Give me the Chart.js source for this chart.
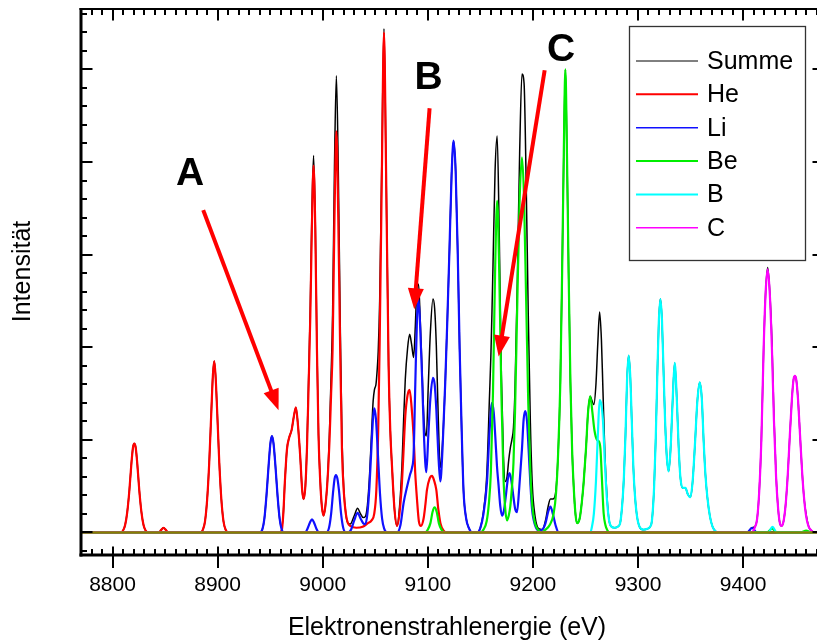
<!DOCTYPE html>
<html>
<head>
<meta charset="utf-8">
<script src="https://cdn.jsdelivr.net/npm/chart.js@4.4.1/dist/chart.umd.min.js"></script>
<style>
  html, body { margin: 0; padding: 0; background: #fff; overflow: hidden; }
  #wrap { position: relative; width: 840px; height: 643px; }
</style>
</head>
<body>
<div id="wrap"><canvas id="c"></canvas></div>
<script>
// Axis ranges and tick values
const X_MIN = 8770, X_MAX = 9477;
const Y_MIN = -0.244, Y_MAX = 5.652;
const xMajorTicks = [8800, 8900, 9000, 9100, 9200, 9300, 9400];
const yMajorTicks = [0, 1, 2, 3, 4, 5];

// Spectra: [energy (eV), intensity]
const summe = [
  [8770,0],[8808,0],[8810,0.02],[8812,0.08],[8814,0.22],[8816,0.45],[8818,0.75],[8819.5,0.92],[8820.7,0.96],[8822,0.92],[8823.5,0.75],[8825.5,0.45],[8827.5,0.22],[8829.5,0.08],[8831.5,0.02],[8834,0],
  [8844,0],[8846.5,0.03],[8848.5,0.05],[8850.5,0.03],[8853,0],
  [8884,0],[8886,0.03],[8888,0.12],[8890,0.35],[8892,0.75],[8894,1.3],[8895.5,1.7],[8896.8,1.85],[8898,1.7],[8899.6,1.3],[8901.6,0.75],[8903.6,0.35],[8905.6,0.12],[8907.6,0.03],[8910,0],
  [8940,0],[8942.5,0.03],[8944.5,0.15],[8946.5,0.4],[8948.5,0.72],[8950.2,0.96],[8951.7,1.04],[8953.2,0.96],[8955,0.72],[8957,0.4],[8959,0.15],
  [8961,0.05],[8962.5,0.2],[8964,0.55],[8966,0.9],[8968,1.02],[8970.5,1.11],[8972.5,1.25],[8974.5,1.35],[8976.5,1.15],[8978.6,0.82],[8980.5,0.45],[8981.8,0.36],[8983.5,0.5],[8985,0.93],[8986.5,1.62],[8988.2,2.45],[8989.7,3.44],[8991.3,4.07],[8992.9,3.38],[8994.5,2.01],[8996,1.06],[8997.7,0.54],[8999.2,0.28],[9000.8,0.18],
  [9002.5,0.28],[9004.5,0.56],[9006.5,1.1],[9008,1.7],[9009.4,2.35],[9011.2,3.95],[9013,4.93],[9014.8,3.93],[9016.6,2.32],[9018.3,1.05],[9020,0.48],[9022,0.2],[9024,0.1],[9026.2,0.09],
  [9030,0.18],[9033.2,0.26],[9036,0.2],[9038.5,0.16],[9040.5,0.17],[9042.5,0.29],[9044.5,0.6],[9046.5,1.08],[9048,1.42],[9049.2,1.54],[9050.7,1.6],[9051.8,1.75],[9052.8,1.95],[9054.2,2.5],[9056.3,4.05],[9058.3,5.44],[9060.3,3.9],[9062.7,1.8],[9064.3,1.1],[9065.9,0.72],[9068.3,0.25],[9070.7,0.07],
  [9073,0.26],[9075.4,0.72],[9077,1.22],[9078.6,1.66],[9080.7,1.98],[9082.7,2.14],[9084.6,2.03],[9086.5,1.89],[9088.1,2.22],[9089.7,2.66],[9091.2,2.68],[9092.8,2.3],[9094.5,1.77],[9096.5,1.18],[9098.6,1.04],[9100.5,1.6],[9102.4,2.15],[9104.9,2.52],[9106.5,2.42],[9108.1,2.02],[9110,1.22],[9111.9,0.7],[9114,0.96],[9116.6,1.62],
  [9118.6,2.3],[9120.6,3.05],[9122.6,3.85],[9124.5,4.23],[9126.5,3.9],[9128.5,3.0],[9130.3,1.98],[9132,1.2],[9134,0.45],[9136.5,0.15],[9139,0.05],[9142,0],
  [9147,0],[9150,0.05],[9153,0.23],[9156,0.6],[9158.8,1.5],[9160,1.9],[9161.1,2.4],[9162,2.86],[9164,3.9],[9166,4.28],[9168,3.2],[9170,1.7],[9172,0.82],[9173.7,0.55],[9175.4,0.6],[9177,0.78],[9178.5,0.91],[9180,1.0],[9181.5,1.13],[9183,1.56],[9185.2,2.72],[9187.4,4.1],[9189.6,4.95],[9191.6,4.85],[9193.6,3.78],[9195.6,2.35],[9197.6,1.18],[9199.5,0.5],[9202,0.18],[9205.5,0.04],
  [9209,0.03],[9212,0.13],[9214.5,0.28],[9216.7,0.36],[9219,0.36],[9221.5,0.42],[9224,0.85],[9226.1,1.62],[9227.8,2.8],[9229.4,4.1],[9230.9,5.0],[9232.4,4.1],[9234,2.8],[9235.7,1.62],[9237.3,0.9],[9238.8,0.5],[9240.5,0.2],[9242,0.1],
  [9244.5,0.15],[9246.5,0.32],[9248.3,0.54],[9250.5,0.9],[9252.5,1.3],[9254.6,1.47],[9256,1.43],[9258,1.38],[9260,1.6],[9261.8,2.05],[9263.5,2.38],[9265.2,2.08],[9266.7,1.52],[9268.5,0.85],[9270.5,0.39],[9272.5,0.13],[9275,0.06],
  [9278,0.05],[9280.5,0.06],[9283,0.1],[9285,0.3],[9286.6,0.6],[9288.1,1.05],[9289.6,1.65],[9291.1,1.91],[9292.6,1.7],[9294.1,1.2],[9295.6,0.7],[9297.1,0.4],[9299,0.18],[9301.5,0.06],[9305,0.03],[9309,0.04],[9311.5,0.06],
  [9313.3,0.13],[9315.3,0.48],[9316.8,0.98],[9318.3,1.66],[9319.8,2.27],[9321.3,2.52],[9322.8,2.3],[9324.3,1.75],[9325.8,1.2],[9327.5,0.8],[9329.2,0.66],[9331,0.9],[9332.9,1.4],[9334.9,1.83],[9336.9,1.45],[9338.6,0.95],[9340.3,0.6],[9342.5,0.48],[9345.1,0.48],[9347.5,0.41],[9349.8,0.38],[9352,0.55],[9354.2,0.95],[9356.5,1.42],[9358.7,1.62],[9360.7,1.45],[9362.5,0.98],[9364.2,0.62],[9366,0.38],[9368.5,0.17],[9371,0.06],[9374,0.01],[9377,0],
  [9404,0],[9408.5,0.05],[9411,0.06],[9413.4,0.15],[9415.4,0.45],[9417.4,1.0],[9419.6,2.0],[9421.5,2.6],[9423.4,2.86],[9425.3,2.62],[9427.4,2.08],[9429.4,1.24],[9431.4,0.62],[9433.4,0.25],[9435,0.1],[9436.5,0.07],[9438.5,0.12],[9440.5,0.3],[9442.5,0.62],[9444.5,1.05],[9446.5,1.45],[9448,1.65],[9449.3,1.69],[9450.6,1.65],[9452.2,1.45],[9454.2,1.05],[9456.2,0.65],[9458.2,0.35],[9460.2,0.18],[9462.5,0.06],[9465,0.02],[9468,0],[9477,0]
];

const he = [
  [8770,0],[8808,0],[8810,0.02],[8812,0.08],[8814,0.22],[8816,0.45],[8818,0.75],[8819.5,0.92],[8820.7,0.96],[8822,0.92],[8823.5,0.75],[8825.5,0.45],[8827.5,0.22],[8829.5,0.08],[8831.5,0.02],[8834,0],
  [8844,0],[8846.5,0.03],[8848.5,0.05],[8850.5,0.03],[8853,0],
  [8884,0],[8886,0.03],[8888,0.12],[8890,0.35],[8892,0.75],[8894,1.3],[8895.5,1.7],[8896.8,1.85],[8898,1.7],[8899.6,1.3],[8901.6,0.75],[8903.6,0.35],[8905.6,0.12],[8907.6,0.03],[8910,0],
  [8958,0],[8961,0.02],[8962.5,0.2],[8964,0.55],[8966,0.9],[8968,1.02],[8970.5,1.11],[8972.5,1.25],[8974.5,1.35],[8976.5,1.15],[8978.6,0.82],[8980.5,0.45],[8981.8,0.36],[8983.5,0.5],[8985,0.9],[8986.5,1.55],[8988.2,2.34],[8989.7,3.3],[8991.3,3.96],[8992.9,3.3],[8994.5,1.98],[8996,1.05],[8997.7,0.54],[8999.2,0.28],[9000.8,0.18],
  [9002.5,0.28],[9004.5,0.55],[9006.5,1.0],[9008,1.5],[9009.4,1.98],[9011.2,3.4],[9013,4.33],[9014.8,3.4],[9016.6,1.98],[9018.3,0.9],[9020,0.45],[9022,0.2],[9024,0.1],[9026.2,0.07],
  [9032,0.05],[9038,0.06],[9043,0.1],[9046.5,0.13],[9049,0.2],[9051,0.45],[9052.8,1.1],[9054.2,2.05],[9056.3,3.9],[9058.3,5.4],[9060.3,3.9],[9062.7,1.8],[9064.3,1.1],[9065.9,0.72],[9068.3,0.25],[9070.7,0.07],
  [9073,0.2],[9075.4,0.54],[9077,0.9],[9078.6,1.26],[9080.7,1.48],[9082.7,1.54],[9084.6,1.35],[9086.5,1.04],[9088,0.65],[9089.7,0.36],[9091.5,0.12],[9093.5,0.07],[9096,0.15],[9097.7,0.3],[9099.2,0.46],[9101.7,0.58],[9104,0.61],[9106,0.56],[9108.1,0.46],[9110,0.25],[9112,0.1],[9115,0.02],[9118,0],[9477,0]
];

const li = [
  [8770,0],[8940,0],[8942.5,0.03],[8944.5,0.15],[8946.5,0.4],[8948.5,0.72],[8950.2,0.96],[8951.7,1.04],[8953.2,0.96],[8955,0.72],[8957,0.4],[8959,0.15],[8961,0.03],[8963,0],
  [8983.5,0],[8985.5,0.04],[8988,0.11],[8989.8,0.14],[8991.6,0.11],[8994,0.04],[8996.5,0],
  [9003.5,0],[9006,0.05],[9008,0.2],[9010,0.45],[9011.3,0.58],[9012.6,0.62],[9014,0.58],[9015.5,0.45],[9017.5,0.2],[9019.5,0.05],[9022,0],
  [9024,0],[9027,0.03],[9030,0.13],[9033.2,0.21],[9036,0.15],[9038.5,0.1],[9040.5,0.09],[9042.5,0.2],[9044.5,0.5],[9046.5,0.95],[9048,1.25],[9049.2,1.34],[9050.7,1.22],[9052.5,0.85],[9054.5,0.42],[9056.5,0.15],[9058.5,0.04],[9061,0],
  [9070.7,0],[9074,0.08],[9077,0.32],[9080.2,0.49],[9083,0.62],[9085,0.7],[9086.5,0.85],[9088.1,1.6],[9089.7,2.3],[9091.2,2.52],[9092.8,2.2],[9094.5,1.69],[9096.5,1.0],[9098.6,0.65],[9100.5,1.05],[9102.4,1.44],[9104.9,1.67],[9106.5,1.6],[9108.1,1.33],[9110,0.85],[9111.9,0.55],[9114,0.9],[9116.6,1.62],
  [9118.6,2.3],[9120.6,3.05],[9122.6,3.85],[9124.5,4.23],[9126.5,3.9],[9128.5,3.0],[9130.3,1.98],[9132,1.2],[9134,0.45],[9136.5,0.15],[9139,0.05],[9142,0],
  [9147,0],[9150,0.05],[9153,0.2],[9156.3,0.54],[9158.8,1.1],[9161.1,1.4],[9162.7,1.3],[9164.2,1.04],[9165.8,0.72],[9167.4,0.5],[9169,0.28],[9170.6,0.18],[9172.5,0.24],[9174.5,0.42],[9176.2,0.58],[9177.8,0.64],[9179.5,0.56],[9181.5,0.38],[9183.2,0.25],[9184.9,0.22],[9187,0.48],[9189.6,0.9],[9191.2,1.22],[9192.8,1.31],[9194.4,1.2],[9195.9,0.9],[9197.5,0.55],[9199.2,0.25],[9202,0.08],[9205.5,0.02],
  [9209,0.03],[9212,0.1],[9214.5,0.22],[9216.7,0.28],[9219,0.2],[9221.5,0.08],[9224.5,0],
  [9404,0],[9408.5,0.05],[9413,0],[9477,0]
];

const be = [
  [8770,0],[9097.5,0],[9100,0.03],[9102.5,0.1],[9104.5,0.22],[9106.5,0.27],[9108.5,0.22],[9110.5,0.1],[9113,0.03],[9116,0],
  [9150,0],[9153,0.03],[9156,0.12],[9158,0.3],[9160,0.65],[9162,1.5],[9164,2.8],[9166,3.58],[9168,2.8],[9170,1.5],[9172,0.6],[9173.7,0.25],[9175.4,0.13],[9177,0.18],[9178.5,0.28],[9180,0.48],[9181.5,0.75],[9183,1.3],[9185.2,2.5],[9187.4,3.6],[9189.6,4.05],[9191.6,3.6],[9193.6,2.5],[9195.6,1.4],[9197.6,0.65],[9199.5,0.28],[9202,0.1],[9205.5,0.02],[9208,0],
  [9212,0.03],[9216,0.08],[9219.7,0.2],[9222,0.42],[9224,0.85],[9226.1,1.62],[9227.8,2.8],[9229.4,4.1],[9230.9,5.0],[9232.4,4.1],[9234,2.8],[9235.7,1.62],[9237.3,0.9],[9238.8,0.5],[9240.5,0.2],[9242,0.1],
  [9244.5,0.15],[9246.5,0.32],[9248.3,0.54],[9250.5,0.9],[9252.5,1.3],[9254.6,1.47],[9256.6,1.3],[9258.6,1.1],[9261,1.0],[9263,0.98],[9264.3,0.9],[9265.6,0.6],[9267.3,0.21],[9269,0.08],[9271,0.02],[9273,0],
  [9423,0],[9427.5,0.04],[9432,0],[9455,0],[9460,0.02],[9465,0],[9477,0]
];

const bor = [
  [8770,0],[9254.6,0],[9256,0.05],[9258,0.2],[9260,0.55],[9261.8,1.05],[9263.5,1.43],[9265.2,1.38],[9266.7,1.2],[9268.5,0.75],[9270.5,0.35],[9272.5,0.13],[9275,0.06],
  [9278,0.05],[9280.5,0.06],[9283,0.1],[9285,0.3],[9286.6,0.6],[9288.1,1.05],[9289.6,1.65],[9291.1,1.91],[9292.6,1.7],[9294.1,1.2],[9295.6,0.7],[9297.1,0.4],[9299,0.18],[9301.5,0.06],[9305,0.03],[9309,0.04],[9311.5,0.06],
  [9313.3,0.13],[9315.3,0.48],[9316.8,0.98],[9318.3,1.66],[9319.8,2.27],[9321.3,2.52],[9322.8,2.3],[9324.3,1.75],[9325.8,1.2],[9327.5,0.8],[9329.2,0.66],[9331,0.9],[9332.9,1.4],[9334.9,1.83],[9336.9,1.45],[9338.6,0.95],[9340.3,0.6],[9342.5,0.48],[9345.1,0.48],[9347.5,0.41],[9349.8,0.38],[9352,0.55],[9354.2,0.95],[9356.5,1.42],[9358.7,1.62],[9360.7,1.45],[9362.5,0.98],[9364.2,0.62],[9366,0.38],[9368.5,0.17],[9371,0.06],[9374,0.01],[9377,0],
  [9424,0],[9428,0.06],[9432,0],[9477,0]
];

const carbon = [
  [8770,0],[9408,0],[9411,0.05],[9413.4,0.15],[9415.4,0.45],[9417.4,1.0],[9419.6,2.0],[9421.5,2.6],[9423.4,2.84],[9425.3,2.6],[9427.4,2.0],[9429.4,1.2],[9431.4,0.6],[9433.4,0.25],[9435,0.1],[9436.5,0.07],[9438.5,0.12],[9440.5,0.3],[9442.5,0.62],[9444.5,1.05],[9446.5,1.45],[9448,1.65],[9449.3,1.69],[9450.6,1.65],[9452.2,1.45],[9454.2,1.05],[9456.2,0.65],[9458.2,0.35],[9460.2,0.16],[9462.5,0.06],[9465,0.02],[9468,0],[9477,0]
];

const zeroLine = [[X_MIN, 0], [X_MAX, 0]];

// Annotation arrows and letters, in data coordinates
const arrows = [
  { from: [8886.3, 3.48], to: [8958.0, 1.32] },
  { from: [9101.7, 4.58], to: [9087.1, 2.41] },
  { from: [9211.2, 4.99], to: [9167.4, 1.90] }
];
const letters = [
  { text: 'A', at: [8873.9, 3.87] },
  { text: 'B', at: [9100.7, 4.90] },
  { text: 'C', at: [9226.9, 5.21] }
];

const FONT = "'Liberation Sans', Arial, Helvetica, sans-serif";

const series = [
  { label: 'Summe', data: summe,  color: '#000000', width: 1.5, legendWidth: 1 },
  { label: 'He',    data: he,     color: '#ff0000', width: 2.2, legendWidth: 2 },
  { label: 'Li',    data: li,     color: '#1010ff', width: 2.2, legendWidth: 1.5 },
  { label: 'Be',    data: be,     color: '#00ee00', width: 2.2, legendWidth: 2 },
  { label: 'B',     data: bor,    color: '#00ffff', width: 2.2, legendWidth: 2 },
  { label: 'C',     data: carbon, color: '#ff00ff', width: 2.2, legendWidth: 1.5 }
];

const toXY = arr => arr.map(p => ({ x: p[0], y: p[1] }));

const datasets = series.map((s, i) => ({
  label: s.label,
  data: toXY(s.data),
  borderColor: s.color,
  backgroundColor: s.color,
  borderWidth: s.width,
  pointRadius: 0,
  fill: false,
  cubicInterpolationMode: 'monotone',
  order: series.length - i + 1
}));
datasets.push({
  label: 'zero',
  data: toXY(zeroLine),
  borderColor: '#858000',
  borderWidth: 2.5,
  pointRadius: 0,
  fill: false,
  order: 0
});

// Frame with inward ticks, axis titles, annotations and legend box
const decorations = {
  id: 'decorations',
  afterDatasetsDraw(chart) {
    const { ctx, chartArea: a, scales: { x, y } } = chart;
    ctx.save();
    ctx.fillStyle = '#000';
    // frame
    ctx.fillRect(a.left - 1.5, a.top - 1, 3, a.bottom - a.top + 2.5);
    ctx.fillRect(a.right - 1.5, a.top - 1, 3, a.bottom - a.top + 2.5);
    ctx.fillRect(a.left - 1.5, a.top - 1, a.right - a.left + 3, 2);
    ctx.fillRect(a.left - 1.5, a.bottom - 1.5, a.right - a.left + 3, 3);

    // x ticks (minor every 10 eV, major every 100 eV)
    for (let k = Math.ceil(X_MIN / 10); k * 10 <= X_MAX; k++) {
      const v = k * 10;
      const px = Math.round(x.getPixelForValue(v));
      if (v % 100 === 0) {
        ctx.fillRect(px - 1, a.bottom - 8.5, 2, 21.5);
        ctx.fillRect(px - 1, a.top, 2, 11.5);
      } else {
        ctx.fillRect(px - 1, a.bottom - 6, 2, 6);
        ctx.fillRect(px - 1, a.top, 2, 6);
      }
    }
    // y ticks (minor every 0.2, major every 1)
    for (let k = Math.ceil(Y_MIN * 5); k / 5 <= Y_MAX; k++) {
      const py = Math.round(y.getPixelForValue(k / 5));
      const len = (k % 5 === 0) ? 11.5 : 6;
      ctx.fillRect(a.left, py - 1, len, 2);
      ctx.fillRect(a.right - len, py - 1, len, 2);
    }

    // arrows
    ctx.fillStyle = '#ff0000';
    ctx.strokeStyle = '#ff0000';
    arrows.forEach(ar => {
      const x0 = x.getPixelForValue(ar.from[0]), y0 = y.getPixelForValue(ar.from[1]);
      const x1 = x.getPixelForValue(ar.to[0]),   y1 = y.getPixelForValue(ar.to[1]);
      const ang = Math.atan2(y1 - y0, x1 - x0);
      const headLen = 21, headHalf = 8;
      const bx = x1 - headLen * Math.cos(ang), by = y1 - headLen * Math.sin(ang);
      ctx.lineWidth = 4;
      ctx.beginPath();
      ctx.moveTo(x0, y0);
      ctx.lineTo(bx + 2 * Math.cos(ang), by + 2 * Math.sin(ang));
      ctx.stroke();
      ctx.beginPath();
      ctx.moveTo(x1, y1);
      ctx.lineTo(bx + headHalf * Math.sin(ang), by - headHalf * Math.cos(ang));
      ctx.lineTo(bx - headHalf * Math.sin(ang), by + headHalf * Math.cos(ang));
      ctx.closePath();
      ctx.fill();
    });

    // letters
    ctx.fillStyle = '#000';
    ctx.font = 'bold 39px ' + FONT;
    ctx.textAlign = 'center';
    ctx.textBaseline = 'middle';
    letters.forEach(l => {
      ctx.fillText(l.text, x.getPixelForValue(l.at[0]), y.getPixelForValue(l.at[1]));
    });
    ctx.restore();
  },
  afterDraw(chart) {
    const { ctx } = chart;
    ctx.save();
    // axis titles
    ctx.fillStyle = '#000';
    ctx.font = '25px ' + FONT;
    ctx.textAlign = 'center';
    ctx.textBaseline = 'middle';
    ctx.fillText('Elektronenstrahlenergie (eV)', 447, 628);
    ctx.save();
    ctx.translate(23, 271.5);
    ctx.rotate(-Math.PI / 2);
    ctx.fillText('Intensität', 0, 0);
    ctx.restore();

    // legend box
    const bx = 629.5, by = 26.5, bw = 176, bh = 234;
    ctx.fillStyle = '#fff';
    ctx.fillRect(bx, by, bw, bh);
    ctx.strokeStyle = '#333';
    ctx.lineWidth = 1.3;
    ctx.strokeRect(bx, by, bw, bh);
    ctx.textAlign = 'left';
    ctx.font = '25px ' + FONT;
    series.forEach((s, i) => {
      const ry = 61 + i * 33.35;
      ctx.strokeStyle = s.color;
      ctx.lineWidth = s.legendWidth;
      ctx.beginPath();
      ctx.moveTo(636, ry);
      ctx.lineTo(698, ry);
      ctx.stroke();
      ctx.fillStyle = '#000';
      ctx.fillText(s.label, 707, ry + 1);
    });
    ctx.restore();
  }
};

Chart.defaults.font.family = FONT;

new Chart(document.getElementById('c'), {
  type: 'line',
  data: { datasets },
  options: {
    responsive: true,
    maintainAspectRatio: false,
    devicePixelRatio: 1,
    animation: false,
    events: [],
    layout: { padding: { left: 0, top: 9, right: 16, bottom: 0 } },
    plugins: { legend: { display: false }, tooltip: { enabled: false } },
    scales: {
      x: {
        type: 'linear',
        min: X_MIN,
        max: X_MAX,
        grid: { display: false, drawTicks: false },
        border: { display: false },
        ticks: {
          color: '#000',
          font: { size: 21, family: FONT },
          padding: 18,
          maxRotation: 0,
          autoSkip: false,
          callback: v => String(v)
        },
        afterBuildTicks: s => { s.ticks = xMajorTicks.map(v => ({ value: v })); },
        afterFit: s => { s.height = 88; }
      },
      y: {
        type: 'linear',
        min: Y_MIN,
        max: Y_MAX,
        grid: { display: false, drawTicks: false },
        border: { display: false },
        ticks: { display: false },
        afterFit: s => { s.width = 81; }
      }
    }
  },
  plugins: [decorations]
});
</script>
</body>
</html>
